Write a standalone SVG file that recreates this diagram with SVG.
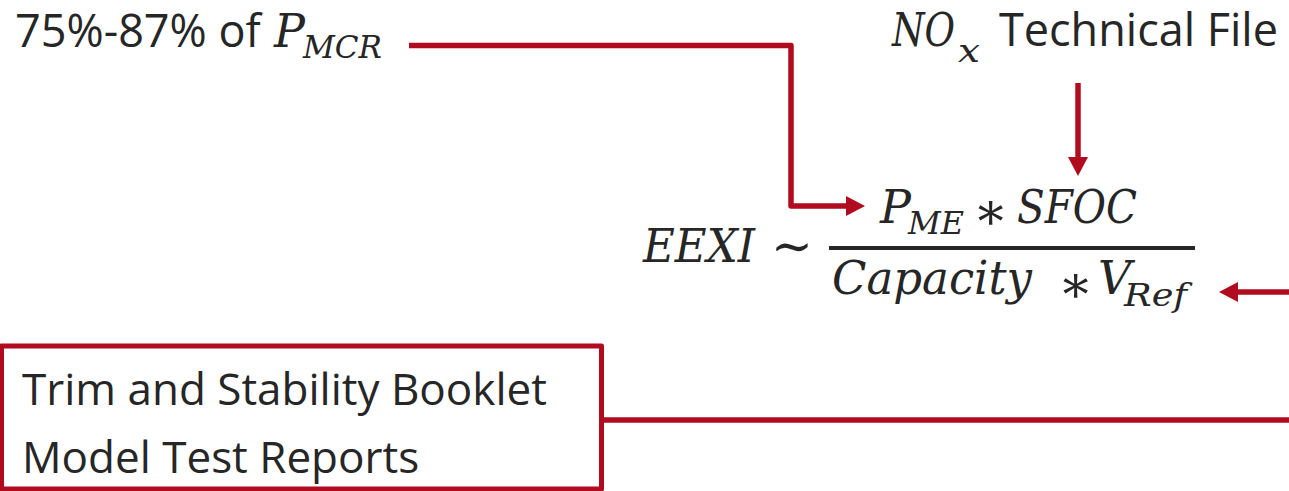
<svg xmlns="http://www.w3.org/2000/svg" width="1289" height="491" viewBox="0 0 1289 491">
  <style>
    .lbl { font-family: "Open Sans", "Noto Sans", sans-serif; fill: #262626; }
    .m { font-family: "DejaVu Serif", "Liberation Serif", serif; font-style: italic; fill: #262626; font-size: 46px; }
    .ms { font-family: "DejaVu Serif", "Liberation Serif", serif; font-style: italic; fill: #262626; font-size: 31px; }
    .op { font-family: "DejaVu Serif", serif; fill: #262626; }
    .conn { fill: none; stroke: #B00B1E; stroke-width: 5.5; stroke-linejoin: round; }
    .box { fill: #FFFFFF; stroke: #B00B1E; stroke-width: 5; stroke-linejoin: round; }
  </style>
  <defs>
    <marker id="ah" markerUnits="userSpaceOnUse" viewBox="0 0 20 20" markerWidth="20" markerHeight="20" refX="1" refY="10" orient="auto">
      <path d="M0,0 L19,10 L0,20 z" fill="#B00B1E"/>
    </marker>
  </defs>
  <rect width="1289" height="491" fill="#FFFFFF"/>

  <g id="connectors">
    <path class="conn" d="M409,45.5 H791 V206 H847" marker-end="url(#ah)"/>
    <path class="conn" d="M1078,83 V158" marker-end="url(#ah)"/>
    <path class="conn" d="M1289,292 H1237" marker-end="url(#ah)"/>
    <path class="conn" d="M603,420 H1289"/>
  </g>

  <g id="node-pmcr">
    <text class="lbl" x="15" y="47" font-size="45">75%-87% of</text>
    <text class="m" x="274" y="47">P</text>
    <text class="ms" x="303" y="58" textLength="79" lengthAdjust="spacingAndGlyphs">MCR</text>
  </g>

  <g id="node-nox">
    <text class="m" x="892" y="46" textLength="63" lengthAdjust="spacingAndGlyphs">NO</text>
    <text class="ms" x="958" y="62" textLength="22" lengthAdjust="spacingAndGlyphs">x</text>
    <text class="lbl" x="1278" y="46" font-size="45" text-anchor="end">Technical File</text>
  </g>

  <g id="node-formula">
    <text class="m" x="643" y="262" textLength="112" lengthAdjust="spacingAndGlyphs">EEXI</text>
    <text class="op" x="771" y="263" font-size="50">∼</text>
    <text class="m" x="880" y="223">P</text>
    <text class="ms" x="908" y="234" textLength="56" lengthAdjust="spacingAndGlyphs">ME</text>
    <text class="op" x="973" y="229" font-size="52">∗</text>
    <text class="m" x="1017" y="223" textLength="120" lengthAdjust="spacingAndGlyphs">SFOC</text>
    <line x1="829" y1="248" x2="1195" y2="248" stroke="#262626" stroke-width="4"/>
    <text class="m" x="832" y="294" textLength="200" lengthAdjust="spacingAndGlyphs">Capacity</text>
    <text class="op" x="1058" y="302" font-size="52">∗</text>
    <text class="m" x="1098" y="294">V</text>
    <text class="ms" x="1124" y="306" textLength="63" lengthAdjust="spacingAndGlyphs">Ref</text>
  </g>

  <g id="node-booklet">
    <rect class="box" x="1.5" y="346" width="600" height="143"/>
    <text class="lbl" x="22" y="405" font-size="44">Trim and Stability Booklet</text>
    <text class="lbl" x="22" y="473" font-size="44">Model Test Reports</text>
  </g>
</svg>
